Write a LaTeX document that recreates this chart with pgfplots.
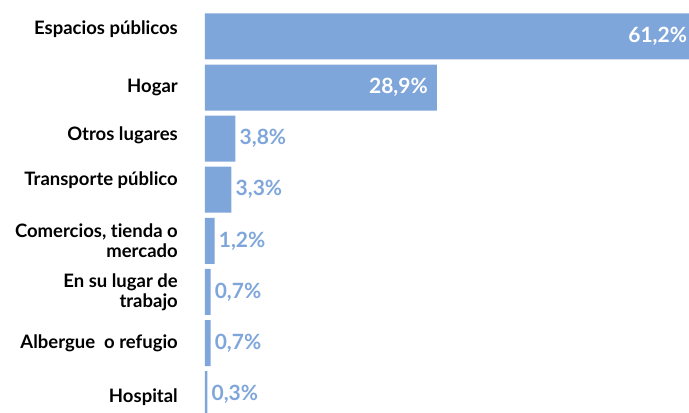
\documentclass[border=0pt]{standalone}
\usepackage{fontspec}
\setmainfont{Lato}[Ligatures=NoCommon]
\usepackage{pgfplots}
\pgfplotsset{compat=1.18}
\definecolor{barblue}{RGB}{127,166,218}
\begin{document}
\begin{tikzpicture}
\begin{axis}[
  scale only axis, width=484pt, height=413pt, clip=false,
  xbar, bar width=46pt, bar shift=0pt,
  xmin=0, xmax=60.3, ymin=-0.714, ymax=7.37, y dir=reverse,
  axis line style={draw=none}, major tick length=0pt,
  xtick=\empty, ytick={0,1,2,3,4,5,6,7},
  yticklabels={\raisebox{18pt}{Espacios públicos}, Hogar, \raisebox{10pt}{Otros lugares}, \raisebox{22pt}{Transporte público}, {Comercios, tienda o\\mercado}, {En su lugar de\\trabajo}, Albergue\ \ o refugio, \raisebox{-20pt}{Hospital}},
  yticklabel style={font=\bfseries\fontsize{18.5}{20}\selectfont, align=right, inner sep=0pt, xshift=-27pt, text=black},
  point meta=explicit symbolic,
  nodes near coords,
]
\coordinate (bl) at (rel axis cs:0,0);
\coordinate (tr) at (rel axis cs:1,1);
\addplot[fill=barblue, draw=none, nodes near coords style={anchor=east, inner sep=0pt, text=white, xshift=-9pt, font=\bfseries\fontsize{21}{22}\selectfont}]
  coordinates {(61.2,0) [61,2\%] (28.9,1) [28,9\%]};
\addplot[fill=barblue, draw=none, nodes near coords style={anchor=west, inner sep=0pt, text=barblue, xshift=4pt, font=\bfseries\fontsize{21}{22}\selectfont}]
  coordinates {(3.8,2) [3,8\%] (3.3,3) [3,3\%] (1.2,4) [1,2\%] (0.7,5) [0,7\%] (0.7,6) [0,7\%] (0.3,7) [0,3\%]};
\end{axis}
\pgfresetboundingbox
\path[use as bounding box] ([xshift=-205pt]bl) rectangle (tr);
\end{tikzpicture}
\end{document}
